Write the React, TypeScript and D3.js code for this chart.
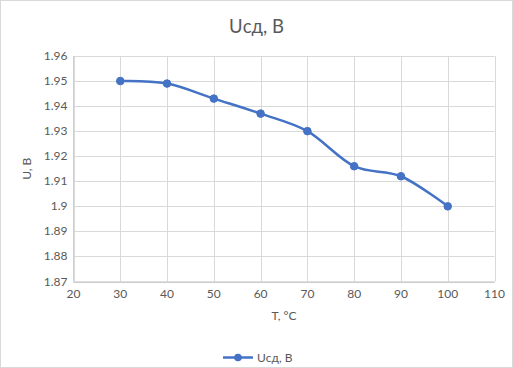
import React from "react";
import * as d3 from "d3";

const temps = [30, 40, 50, 60, 70, 80, 90, 100];
const volts = [1.95, 1.949, 1.943, 1.937, 1.93, 1.916, 1.912, 1.9];
const xTicks = [20, 30, 40, 50, 60, 70, 80, 90, 100, 110];
const yTicks = [1.87, 1.88, 1.89, 1.9, 1.91, 1.92, 1.93, 1.94, 1.95, 1.96];
const title = "Uсд, В";
const xTitle = "T, °C";
const yTitle = "U, В";

const W = 513, H = 368;
const left = 73.5, right = 494.5, top = 56, bottom = 281.5;
const color = "#4472C4";
const font = "Lato, 'Open Sans', sans-serif";

export default function App() {
  const x = d3.scaleLinear().domain([20, 110]).range([left, right]);
  const y = d3.scaleLinear().domain([1.87, 1.96]).range([bottom, top]);
  const line = d3
    .line<number>()
    .x((_, i) => x(temps[i]))
    .y((d) => y(d))
    .curve(d3.curveCardinal.tension(0));
  const path = line(volts) || "";
  return (
    <svg width={W} height={H} style={{ position: "absolute", left: 0, top: 0 }}>
      <rect x={0.5} y={0.5} width={W - 1} height={H - 1} fill="#fff" stroke="#d9d9d9" />
      <text x={W / 2} y={33} textAnchor="middle" fontFamily={font} fontSize={18.5} fill="#595959">
        {title}
      </text>
      {xTicks.map((t) => (
        <line key={"gx" + t} x1={Math.round(x(t)) + 0.5} x2={Math.round(x(t)) + 0.5} y1={top} y2={bottom} stroke="#d9d9d9" />
      ))}
      {yTicks.map((t) => (
        <line key={"gy" + t} x1={left} x2={right} y1={Math.round(y(t)) + 0.5} y2={Math.round(y(t)) + 0.5} stroke="#d9d9d9" />
      ))}
      <line x1={left} x2={right} y1={bottom + 0.5} y2={bottom + 0.5} stroke="#bfbfbf" />
      <line x1={left} x2={left} y1={top} y2={bottom} stroke="#d0d0d0" />
      {xTicks.map((t) => (
        <text key={"tx" + t} x={x(t)} y={bottom + 16} textAnchor="middle" fontFamily={font} fontSize={12} fill="#595959">
          {t}
        </text>
      ))}
      {yTicks.map((t) => (
        <text key={"ty" + t} x={left - 6} y={y(t) + 4} textAnchor="end" fontFamily={font} fontSize={12} fill="#595959">
          {d3.format("~g")(t)}
        </text>
      ))}
      <text x={(left + right) / 2} y={320} textAnchor="middle" fontFamily={font} fontSize={12} fill="#595959">
        {xTitle}
      </text>
      <text transform={`translate(31,${(top + bottom) / 2}) rotate(-90)`} textAnchor="middle" fontFamily={font} fontSize={12} fill="#595959">
        {yTitle}
      </text>
      <path d={path} fill="none" stroke={color} strokeWidth={2.5} strokeLinejoin="round" strokeLinecap="round" />
      {volts.map((v, i) => (
        <circle key={i} cx={x(temps[i])} cy={y(v)} r={3.8} fill={color} stroke={color} strokeWidth={1} />
      ))}
      <line x1={223} x2={253} y1={357.5} y2={357.5} stroke={color} strokeWidth={2.5} />
      <circle cx={238} cy={357.5} r={3.8} fill={color} />
      <text x={257} y={362} fontFamily={font} fontSize={12} fill="#595959">
        {title}
      </text>
    </svg>
  );
}
